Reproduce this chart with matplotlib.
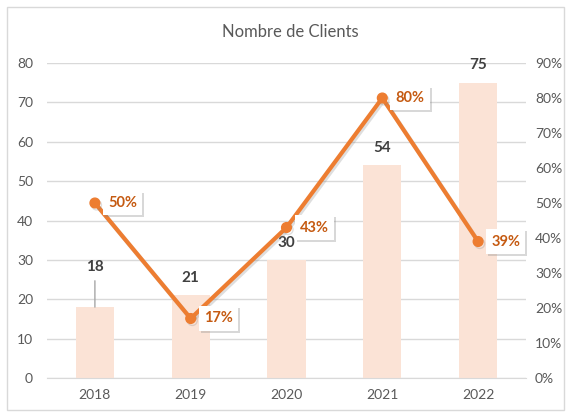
import matplotlib
matplotlib.use("Agg")
import matplotlib.pyplot as plt
import matplotlib.patheffects as pe
from matplotlib.patches import Rectangle

years = ["2018", "2019", "2020", "2021", "2022"]
clients = [18, 21, 30, 54, 75]
growth = [0.50, 0.17, 0.43, 0.80, 0.39]
growth_labels = ["50%", "17%", "43%", "80%", "39%"]
left_ticks = [0, 10, 20, 30, 40, 50, 60, 70, 80]
right_ticks = [0, 0.1, 0.2, 0.3, 0.4, 0.5, 0.6, 0.7, 0.8, 0.9]
right_tick_labels = ["0%", "10%", "20%", "30%", "40%", "50%", "60%", "70%", "80%", "90%"]
title = "Nombre de Clients"

plt.rcParams['font.family'] = ['Lato', 'DejaVu Sans']

fig = plt.figure(figsize=(5.67, 4.12), dpi=100)
fig.patch.set_facecolor('white')
fig.add_artist(Rectangle((7/567, 2/412), 557/567, 403/412, transform=fig.transFigure,
                         fill=False, edgecolor='#D9D9D9', linewidth=1))

ax = fig.add_axes([47/567, (412-378)/412, 479/567, 315/412])
x = list(range(len(years)))
ax.bar(x, clients, width=0.4, color='#FBE3D6', zorder=2)
ax.set_xlim(-0.5, 4.5)
ax.set_ylim(0, 80)
ax.set_yticks(left_ticks)
ax.set_xticks(x)
ax.set_xticklabels(years)
ax.grid(axis='y', color='#D9D9D9', linewidth=1, zorder=0)
ax.set_axisbelow(True)
for s in ['top', 'right', 'left']:
    ax.spines[s].set_visible(False)
ax.spines['bottom'].set_color('#D9D9D9')
ax.tick_params(axis='both', length=0, colors='#595959', labelsize=10)
ax.tick_params(axis='y', pad=10)
ax.tick_params(axis='x', pad=8)

# bar labels (offset in points above bar top)
for i, v in enumerate(clients):
    if i == 0:
        ax.annotate(str(v), xy=(i, v), xytext=(0, 29), textcoords='offset points',
                    ha='center', va='center',
                    fontsize=11, fontweight='bold', color='#404040',
                    arrowprops=dict(arrowstyle='-', color='#A6A6A6', lw=1,
                                    shrinkA=3, shrinkB=0))
    else:
        ax.annotate(str(v), xy=(i, v), xytext=(0, 12.5), textcoords='offset points',
                    ha='center', va='center', fontsize=11,
                    fontweight='bold', color='#404040')

ax2 = ax.twinx()
ax2.set_ylim(0, 0.9)
ax2.set_yticks(right_ticks)
ax2.set_yticklabels(right_tick_labels)
for s in ax2.spines.values():
    s.set_visible(False)
ax2.tick_params(axis='y', length=0, colors='#595959', labelsize=10, pad=6.5)

shadow = [pe.SimpleLineShadow(offset=(1.2, -1.5), shadow_color='#7F7F7F', alpha=0.25), pe.Normal()]
ax2.plot(x, growth, color='#ED7D31', linewidth=3, marker='o', markersize=7,
         zorder=3, path_effects=shadow, solid_capstyle='round')

for i, (g, lab) in enumerate(zip(growth, growth_labels)):
    t = ax2.annotate(lab, xy=(i, g), xytext=(9.5, 0), textcoords='offset points',
                     ha='left', va='center', fontsize=10.5, fontweight='bold', color='#C55A11',
                     bbox=dict(boxstyle='square,pad=0.35', facecolor='white', edgecolor='none'),
                     zorder=5)
    t.get_bbox_patch().set_path_effects([pe.withSimplePatchShadow(offset=(1.5, -1.5),
                                                                  shadow_rgbFace='#808080',
                                                                  alpha=0.3)])

fig.text(290/567, 1 - 32/412, title, ha='center', va='center', fontsize=12, color='#595959')

fig.savefig('out.png', dpi=100)
